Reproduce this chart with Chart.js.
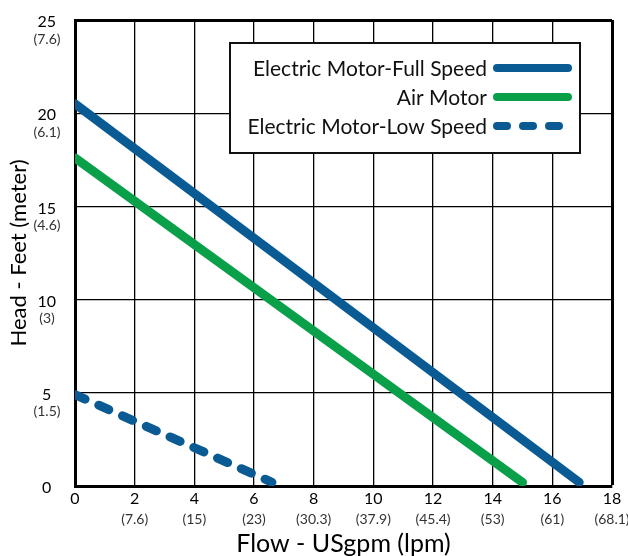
<!DOCTYPE html>
<html lang="en">
  <head>
    <meta charset="UTF-8" />
    <title>Pump curve</title>
    <style>
      body {
        margin: 0;
        background: #fff;
      }
      .wrap {
        width: 628px;
        height: 556px;
      }
    </style>
  </head>
  <body>
    <script src="https://cdn.jsdelivr.net/npm/chart.js@4.4.0/dist/chart.umd.min.js"></script>

    <div class="wrap">
      <canvas id="pump-chart" width="628" height="556"></canvas>
    </div>
    <script>
      // values
      const seriesNames = ["Electric Motor-Full Speed", "Air Motor", "Electric Motor-Low Speed"];
      const fullFlow = [0, 16.9];
      const fullHead = [20.5, 0.2];
      const airFlow = [0, 15];
      const airHead = [17.6, 0.2];
      const lowFlow = [0, 6.6];
      const lowHead = [4.9, 0.2];

      const flowTicks = ["0", "2", "4", "6", "8", "10", "12", "14", "16", "18"];
      const lpmTicks = ["", "(7.6)", "(15)", "(23)", "(30.3)", "(37.9)", "(45.4)", "(53)", "(61)", "(68.1)"];
      const headTicks = ["0", "5", "10", "15", "20", "25"];
      const meterTicks = ["", "(1.5)", "(3)", "(4.6)", "(6.1)", "(7.6)"];

      const blue = "#0a5a93";
      const green = "#0aa04a";
      const FONT = "Lato, 'DejaVu Sans', sans-serif";

      function pts(xs, ys) {
        return xs.map((x, i) => ({ x: x, y: ys[i] }));
      }

      // keep tick labels from pushing the plot area inwards
      function noOverflow(scale) {
        scale.paddingLeft = 0;
        scale.paddingRight = 0;
        scale.paddingTop = 0;
        scale.paddingBottom = 0;
      }

      // legend drawn inside the plot, text on the left and sample line on the right
      const boxLegend = {
        id: "boxLegend",
        afterDraw(chart) {
          const ctx = chart.ctx;
          const area = chart.chartArea;
          const w = 350, h = 110;
          const left = area.right - 32 - w;
          const top = area.top + 23;
          ctx.save();
          ctx.fillStyle = "#fff";
          ctx.fillRect(left, top, w, h);
          ctx.lineWidth = 2;
          ctx.strokeStyle = "#111";
          ctx.strokeRect(left, top, w, h);
          ctx.font = "21px " + FONT;
          ctx.textAlign = "right";
          ctx.textBaseline = "middle";
          chart.data.datasets.forEach((ds, i) => {
            const y = top + 25 + i * 29;
            ctx.fillStyle = "#111";
            ctx.fillText(ds.label, left + 257, y + 1);
            ctx.beginPath();
            ctx.lineWidth = 8;
            ctx.lineCap = "round";
            ctx.strokeStyle = ds.borderColor;
            ctx.setLineDash(ds.borderDash ? [10, 16] : []);
            ctx.moveTo(left + 267, y);
            ctx.lineTo(left + 338, y);
            ctx.stroke();
            ctx.setLineDash([]);
          });
          ctx.restore();
        }
      };

      // metre values under the feet numbers of the y axis
      const meterLabels = {
        id: "meterLabels",
        afterDraw(chart) {
          const ctx = chart.ctx;
          const ys = chart.scales.y;
          ctx.save();
          ctx.font = "14px " + FONT;
          ctx.fillStyle = "#333";
          ctx.textAlign = "center";
          ctx.textBaseline = "middle";
          ys.ticks.forEach((t, i) => {
            if (!meterTicks[i]) return;
            ctx.fillText(meterTicks[i], chart.chartArea.left - 28, ys.getPixelForValue(t.value) + 19);
          });
          ctx.restore();
        }
      };

      new Chart(document.getElementById("pump-chart"), {
        type: "line",
        data: {
          datasets: [
            {
              label: seriesNames[0],
              data: pts(fullFlow, fullHead),
              borderColor: blue,
              borderWidth: 9,
              borderCapStyle: "round",
              pointRadius: 0
            },
            {
              label: seriesNames[1],
              data: pts(airFlow, airHead),
              borderColor: green,
              borderWidth: 9,
              borderCapStyle: "round",
              pointRadius: 0
            },
            {
              label: seriesNames[2],
              data: pts(lowFlow, lowHead),
              borderColor: blue,
              borderWidth: 9,
              borderCapStyle: "round",
              borderDash: [11, 15],
              pointRadius: 0
            }
          ]
        },
        options: {
          responsive: false,
          animation: false,
          layout: { padding: { top: 20, right: 16, left: 6, bottom: 0 } },
          plugins: {
            legend: { display: false },
            tooltip: { enabled: false }
          },
          scales: {
            x: {
              type: "linear",
              min: 0,
              max: 18,
              weight: 0,
              afterFit: noOverflow,
              border: { display: true, color: "#000", width: 3 },
              grid: {
                color: "#000",
                lineWidth: c => (c.tick && c.tick.value === 18 ? 3 : 1.3),
                drawTicks: false
              },
              ticks: {
                stepSize: 2,
                padding: 5,
                color: "#000",
                font: { family: FONT, size: 16, lineHeight: 1 },
                callback: (v, i) => flowTicks[i]
              }
            },
            x2: {
              type: "linear",
              position: "bottom",
              min: 0,
              max: 18,
              weight: 1,
              afterFit: noOverflow,
              border: { display: false },
              grid: { display: false, drawTicks: false },
              ticks: {
                stepSize: 2,
                padding: 0,
                color: "#333",
                font: { family: FONT, size: 14, lineHeight: 1 },
                callback: (v, i) => lpmTicks[i]
              },
              title: {
                display: true,
                text: "Flow - USgpm (lpm)",
                color: "#000",
                font: { family: FONT, size: 25, lineHeight: 1 },
                padding: { top: 5, bottom: 0 }
              }
            },
            y: {
              min: 0,
              max: 25,
              afterFit: s => {
                noOverflow(s);
                s.width = 69;
              },
              border: { display: true, color: "#000", width: 3 },
              grid: {
                color: "#000",
                lineWidth: c => (c.tick && c.tick.value === 25 ? 3 : 1.3),
                drawTicks: false
              },
              ticks: {
                stepSize: 5,
                padding: 19,
                labelOffset: 2,
                crossAlign: "center",
                color: "#000",
                font: { family: FONT, size: 16 },
                callback: (v, i) => headTicks[i]
              },
              title: {
                display: true,
                text: "Head - Feet (meter)",
                color: "#000",
                font: { family: FONT, size: 22 },
                padding: { top: 0, bottom: 0 }
              }
            }
          }
        },
        plugins: [boxLegend, meterLabels]
      });
    </script>
  </body>
</html>
